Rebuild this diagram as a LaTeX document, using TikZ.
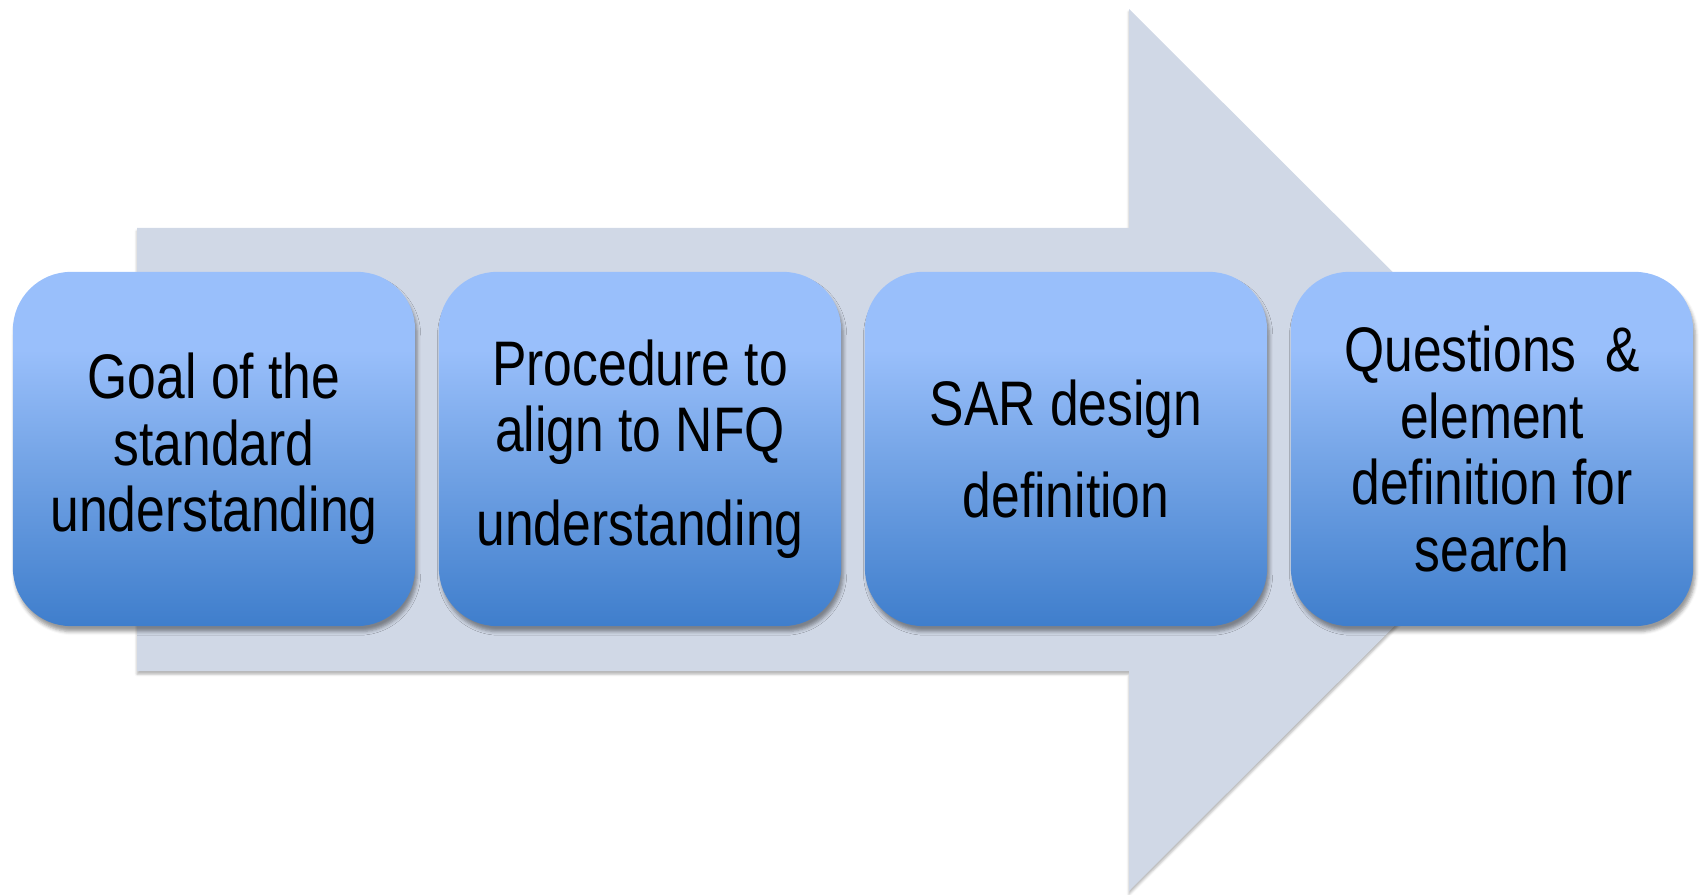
\documentclass[tikz,border=0pt]{standalone}
\usepackage{fontspec}
\setmainfont{Liberation Sans}[FakeStretch=0.82]
\usetikzlibrary{shadows.blur}

\definecolor{flowgray}{HTML}{D0D8E6}
\definecolor{boxtop}{HTML}{99BFFB}
\definecolor{boxmid}{HTML}{78A7E8}
\definecolor{boxbot}{HTML}{3F7ECC}

% light at the top, darker towards the bottom
\pgfdeclareverticalshading{boxfill}{100bp}{color(0bp)=(boxbot); color(25bp)=(boxbot);
  color(50bp)=(boxmid); color(64bp)=(boxtop); color(100bp)=(boxtop)}

\begin{document}
\begin{tikzpicture}[x=0.01cm,y=0.01cm,inner sep=0pt,outer sep=0pt,
stepbox/.style={rectangle,rounded corners=0.58cm,minimum width=4.02cm,minimum height=3.54cm,
  shading=boxfill,align=center,font=\fontsize{17.9pt}{18.9pt}\selectfont,
  blur shadow={shadow xshift=0.6pt,shadow yshift=-1.6pt,shadow blur radius=1pt,shadow opacity=40}}]

\useasboundingbox (0,0) rectangle (1704,894);

% big background arrow
\fill[flowgray,blur shadow={shadow xshift=0pt,shadow yshift=-0.9pt,shadow blur radius=0.7pt,shadow opacity=30}]
  (137,223) -- (137,666) -- (1129,666) -- (1129,885) -- (1571,444) -- (1129,3) -- (1129,223) -- cycle;

\draw (214,445) node[stepbox] (goal) {Goal of the\\standard\\understanding};
\draw (640,445) node[stepbox] (align) {Procedure to\\align to NFQ\\[0.27cm]understanding};
\draw (1066,445) node[stepbox] (sar) {SAR design\\[0.25cm]definition};
\draw (1492,445) node[stepbox] (quest) {Questions\ \ \&\\element\\definition for\\search};
\end{tikzpicture}
\end{document}
